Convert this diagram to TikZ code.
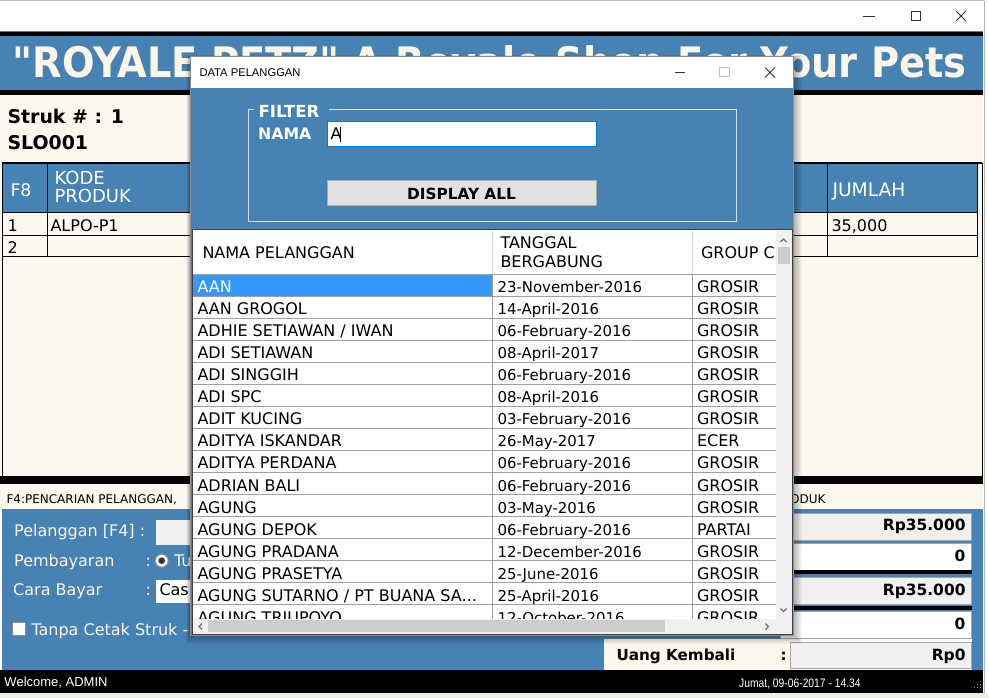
\documentclass[tikz,border=0pt]{standalone}
\usepackage{fontspec}
\usepackage{graphicx}
\setmainfont{DejaVu Sans}
\newfontfamily\uifont{Liberation Sans}
\newcommand\straightdq{\XeTeXglyph\XeTeXcharglyph"22\relax}
\definecolor{steel}{RGB}{70,130,180}
\definecolor{cream}{HTML}{FDF8EE}
\definecolor{titletxt}{HTML}{FDF5E6}
\definecolor{gridln}{HTML}{A0A0A0}
\definecolor{sel}{HTML}{3399FF}
\definecolor{ctl}{HTML}{F0F0F0}
\definecolor{thumb}{HTML}{CDCDCD}
\definecolor{btn}{HTML}{E1E1E1}
\definecolor{btnbd}{HTML}{ADADAD}
\definecolor{focus}{HTML}{0078D7}
\definecolor{bottomstrip}{HTML}{F0EDE6}
\tikzset{
  txt/.style={inner sep=0pt, anchor=base west},
  rtxt/.style={inner sep=0pt, anchor=base east},
  ctxt/.style={inner sep=0pt, anchor=center},
  cellA/.style={txt, font=\fontsize{12}{14}\selectfont},
  cellB/.style={txt, font=\fontsize{11.2}{13}\selectfont},
  hdr/.style={txt, font=\fontsize{12}{14}\selectfont},
  lbl/.style={txt, text=titletxt, font=\fontsize{12}{14}\selectfont},
  boldnum/.style={rtxt, font=\fontsize{11.6}{14}\selectfont\bfseries},
  winbtn/.style={line width=0.75pt, black!80},
  arrowmark/.style={line width=0.9pt, black!55},
}
\begin{document}
\begin{tikzpicture}[x=0.75pt,y=-0.75pt,line width=0.75pt]
\useasboundingbox (0,0) rectangle (989,698);
\fill[white] (0,0) rectangle (989,698);
% top strip
\draw[black!25] (0,1) -- (984,1);
% main window title bar buttons
\draw[winbtn] (863,16.5) -- (875,16.5);
\draw[winbtn] (911,12) rectangle (920,21);
\draw[winbtn] (956,11) -- (966,21) (966,11) -- (956,21);
% black line + header band
\fill[black!55] (0,31) rectangle (983,32);
\fill[black] (0,32) rectangle (983,36.5);
\fill[steel] (0,36.5) rectangle (983,90.5);
\node[txt, text=titletxt, font=\fontsize{31.5}{36}\selectfont\bfseries] (title) at (12,77.3)
  {\resizebox{715.5pt}{\height}{\straightdq ROYALE PETZ\straightdq{} A Royale Shop For Your Pets}};
\fill[black] (0,90.5) rectangle (983,95);
% cream body
\fill[cream] (0,95) rectangle (983,484);
\node[txt, font=\fontsize{14.2}{17}\selectfont\bfseries] (struk) at (7,124) {Struk \# : 1};
\node[txt, font=\fontsize{14.2}{17}\selectfont\bfseries] (slo) at (7,150) {SLO001};
% main table
\fill[steel] (2.5,163.5) rectangle (977,213);
\draw[line width=1.5pt] (2,163) -- (982,163);
\draw (2,163) -- (2,476) (982,163) -- (982,476);
\draw (2,213) -- (977,213) (2,235.5) -- (977,235.5) (2,257) -- (977,257);
\draw (47,163) -- (47,257) (827,163) -- (827,257) (977,163) -- (977,257);
\node[txt, text=white, font=\fontsize{13}{15}\selectfont] (hf8) at (10,196.7) {F8};
\node[txt, text=white, font=\fontsize{13.5}{16}\selectfont] (hkode) at (54,184.5) {KODE};
\node[txt, text=white, font=\fontsize{13.5}{16}\selectfont] (hprod) at (54,202.5) {PRODUK};
\node[txt, text=white, font=\fontsize{14}{16}\selectfont] (hjml) at (832,197) {JUMLAH};
\node[cellA] (r1a) at (7,231.7) {1};
\node[cellA] (r1b) at (50,231.7) {ALPO-P1};
\node[cellA] (r1c) at (831,231.7) {35,000};
\node[cellA] (r2a) at (7,253.7) {2};
% black bar and hint strip
\fill[black] (0,476) rectangle (983,484);
\fill[cream] (0,484) rectangle (983,509);
\node[txt, font=\fontsize{9}{11}\selectfont] (hint) at (6,503.3) {F4:PENCARIAN PELANGGAN,};
\node[rtxt, font=\fontsize{9}{11}\selectfont] (hint2) at (826,503.3) {ODUK};
% lower blue area
\fill[steel] (2,509) rectangle (983,669.5);
\node[lbl] (lpel) at (13.7,536.7) {Pelanggan [F4] :};
\fill[ctl] (156,520) rectangle (200,545);
\node[lbl] (lpem) at (13.7,566.7) {Pembayaran};
\node[lbl] (lpemc) at (145,566.7) {:};
\draw[black!45, fill=white] (161.7,560.7) circle (4.9pt);
\fill[black!80] (161.7,560.7) circle (2.5pt);
\node[lbl] (ltu) at (173.5,566.7) {Tu};
\node[lbl] (lcara) at (12.7,595) {Cara Bayar};
\node[lbl] (lcarac) at (145,595) {:};
\fill[white] (156,580) rectangle (200,603.3);
\node[cellA] (lcash) at (159,595) {Cash};
\draw[black!45, fill=white] (12.7,622) rectangle (25,635.5);
\node[lbl] (ltanpa) at (31,635) {Tanpa Cetak Struk -};
% right boxes
\draw[black!35, fill=ctl] (780,513) rectangle (971,540.5);
\node[boldnum] (v1) at (966,530) {Rp35.000};
\draw[black!35, fill=white] (780,543) rectangle (971,570);
\node[boldnum] (v2) at (966,561) {0};
\fill[black] (780,570) rectangle (972,574);
\draw[black!35, fill=ctl] (780,577) rectangle (971,604.5);
\node[boldnum] (v3) at (966,595) {Rp35.000};
\fill[black] (780,606) rectangle (972,610);
\draw[black!35, fill=white] (780,611.5) rectangle (971,638);
\node[boldnum] (v4) at (966,629.3) {0};
\fill[cream] (604,638.5) rectangle (972,669.5);
\node[txt, font=\fontsize{11.4}{14}\selectfont\bfseries] (uang) at (616,660) {Uang Kembali};
\node[txt, font=\fontsize{11.4}{14}\selectfont\bfseries] (uangc) at (780,660) {:};
\draw[black!35, fill=ctl] (790,642) rectangle (971,668.5);
\node[boldnum] (v5) at (966,660) {Rp0};
% status bar
\fill[black] (0,669.5) rectangle (983,693);
\node[txt, text=white, font=\uifont\fontsize{9.75}{12}\selectfont] (welcome) at (4,686.7) {Welcome, ADMIN};
\node[txt, text=white, font=\uifont\fontsize{9.2}{12}\selectfont] (clock) at (738.7,687)
  {\scalebox{0.84}[1]{Jumat, 09-06-2017 - 14.34}};
\foreach \p in {(979.5,680.5),(976.5,683.5),(979.5,683.5),(973.5,686.5),(976.5,686.5),(979.5,686.5)}
  \fill[black!45] \p rectangle +(1.5,1.5);
\fill[bottomstrip] (0,693) rectangle (989,698);
\draw[black!30] (984,1) -- (984,693);
% dialog shadow
\foreach \k in {1,...,9}
  \fill[black, opacity=0.035] (190-\k*0.4,57-\k*0.2) rectangle (793+\k,635+\k);
% dialog
\fill[white] (190,57) rectangle (793,88);
\fill[steel] (190,88) rectangle (793,635);
\draw[black!45] (190,57) rectangle (793,635);
\node[txt, font=\uifont\fontsize{8.4}{10}\selectfont] (dtitle) at (199,76.7) {DATA PELANGGAN};
\draw[winbtn] (675,72.5) -- (685,72.5);
\draw[line width=0.75pt, black!25] (719,68) rectangle (729,77);
\draw[winbtn] (765,67.5) -- (775,77.5) (775,67.5) -- (765,77.5);
% filter group
\draw[white!75!steel] (254,110) -- (248,110) -- (248,222) -- (736,222) -- (736,110) -- (329,110);
\node[txt, text=white, font=\fontsize{12.5}{15}\selectfont\bfseries] (filter) at (258,117.3) {FILTER};
\node[txt, text=white, font=\fontsize{11.8}{14}\selectfont\bfseries] (nama) at (257.7,139.3) {NAMA};
\draw[focus, fill=white] (327,122) rectangle (596,147);
\node[cellA] (nameval) at (330,139.5) {A};
\draw[black, line width=0.75pt] (340.5,127.5) -- (340.5,142.5);
\draw[btnbd, fill=btn] (327.5,180.5) rectangle (596,206);
\node[ctxt, font=\fontsize{11.5}{14}\selectfont\bfseries] (dispall) at (461.5,193.5) {DISPLAY ALL};
% grid
\fill[white] (192,230) rectangle (792,634);
\begin{scope}
\clip (193,231) rectangle (776,618.5);
\fill[sel] (193,275) rectangle (491.5,296.5);
\draw[black!15] (492,231) -- (492,274.5) (692,231) -- (692,274.5);
\draw[gridln] (193,274.5) -- (776,274.5);
\foreach \k in {1,...,16}
  \draw[gridln] (193,274.5+22*\k) -- (776,274.5+22*\k);
\draw[gridln] (492,274.5) -- (492,640) (692,274.5) -- (692,640);
\node[hdr] (hnama) at (202,259) {NAMA PELANGGAN};
\node[hdr] (htgl1) at (500,248.5) {TANGGAL};
\node[hdr] (htgl2) at (500,267.5) {BERGABUNG};
\node[hdr] (hgrp) at (700.5,259) {GROUP C};
\node[cellA, text=white] (n0) at (197,293) {AAN};
\node[cellB] (d0) at (497,293) {23-November-2016};
\node[cellA] (g0) at (696.5,293) {GROSIR};
\foreach \i/\nm/\dt/\gp in {
  1/AAN GROGOL/14-April-2016/GROSIR,
  2/{ADHIE SETIAWAN / IWAN}/06-February-2016/GROSIR,
  3/ADI SETIAWAN/08-April-2017/GROSIR,
  4/ADI SINGGIH/06-February-2016/GROSIR,
  5/ADI SPC/08-April-2016/GROSIR,
  6/ADIT KUCING/03-February-2016/GROSIR,
  7/ADITYA ISKANDAR/26-May-2017/ECER,
  8/ADITYA PERDANA/06-February-2016/GROSIR,
  9/ADRIAN BALI/06-February-2016/GROSIR,
  10/AGUNG/03-May-2016/GROSIR,
  11/AGUNG DEPOK/06-February-2016/PARTAI,
  12/AGUNG PRADANA/12-December-2016/GROSIR,
  13/AGUNG PRASETYA/25-June-2016/GROSIR,
  14/{AGUNG SUTARNO / PT BUANA SA...}/25-April-2016/GROSIR,
  15/AGUNG TRIUPOYO/12-October-2016/GROSIR}
{
  \node[cellA] (n\i) at (197,293+22*\i) {\nm};
  \node[cellB] (d\i) at (497,293+22*\i) {\dt};
  \node[cellA] (g\i) at (696.5,293+22*\i) {\gp};
}
\end{scope}
% scrollbars
\fill[ctl] (776,231) rectangle (791.5,633.5);
\fill[thumb] (777.5,247.5) rectangle (790,264);
\draw[arrowmark] (780.5,242) -- (783.5,239) -- (786.5,242);
\draw[arrowmark] (780.5,608.5) -- (783.5,611.5) -- (786.5,608.5);
\fill[ctl] (193,618.5) rectangle (776,633.5);
\fill[thumb] (208,620) rectangle (665,632);
\draw[arrowmark] (202,623.5) -- (199,626.5) -- (202,629.5);
\draw[arrowmark] (765.5,623.5) -- (768.5,626.5) -- (765.5,629.5);
\draw[black!75] (192,230) rectangle (792,634);
\end{tikzpicture}
\end{document}
